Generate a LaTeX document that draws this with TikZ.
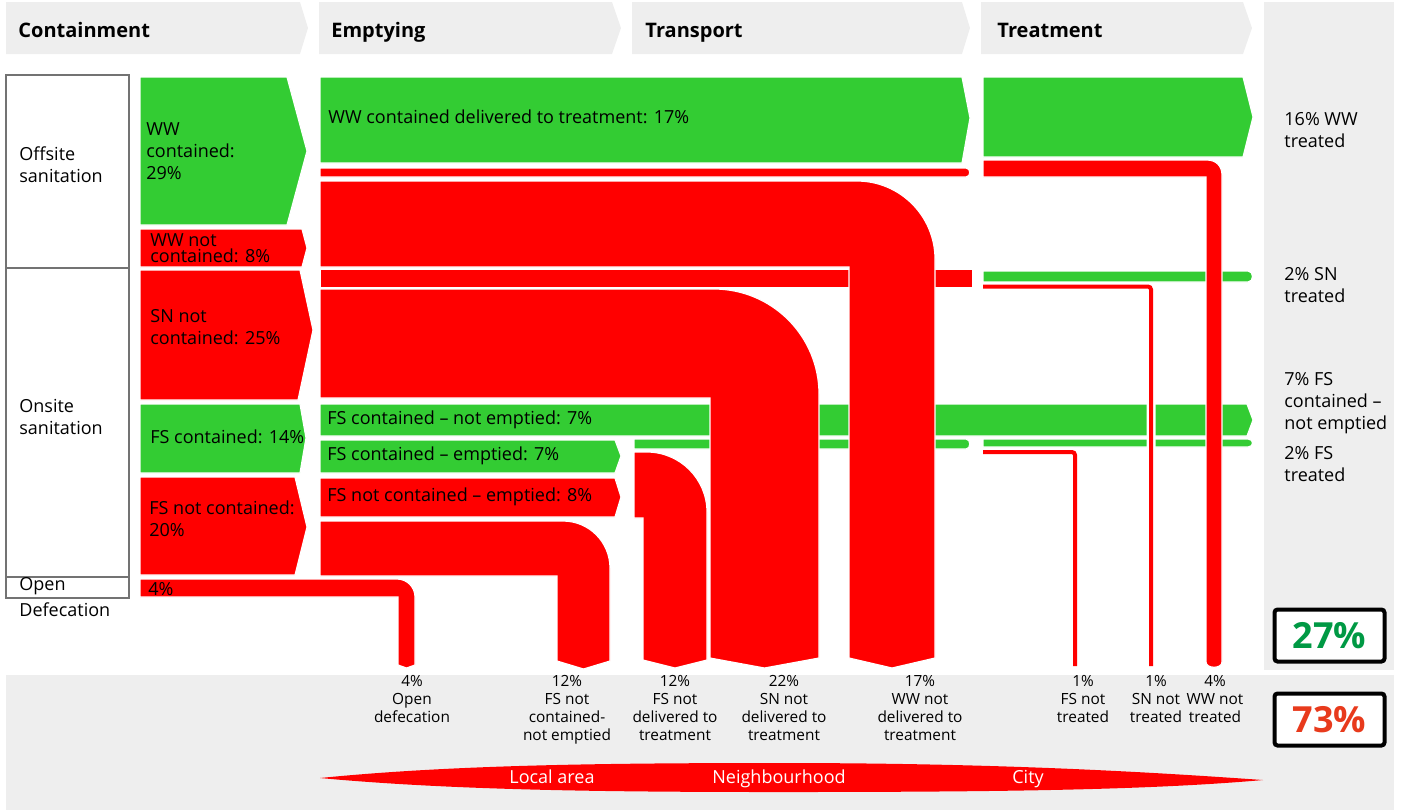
\documentclass[tikz,border=0pt]{standalone}
\usepackage{fontspec}
\setmainfont{Open Sans}
\definecolor{sfdgreen}{RGB}{51,204,51}
\definecolor{sfdred}{RGB}{255,0,0}
\definecolor{sfdgray}{RGB}{238,238,238}
\definecolor{safetext}{RGB}{0,153,68}
\definecolor{unsafetext}{RGB}{232,58,28}
\tikzset{
  safe/.style={fill=sfdgreen, draw=white, line width=0.6pt},
  unsafe/.style={fill=sfdred, draw=white, line width=0.6pt},
  thinflow/.style={draw=sfdred, line width=2pt, rounded corners=1.5pt,
    preaction={draw=white, line width=4.5pt}},
  stage/.style={fill=sfdgray},
  lbl/.style={font=\fontsize{9}{11}\selectfont, inner sep=0pt, align=left, anchor=west},
  outlbl/.style={font=\fontsize{7.7}{9}\selectfont, inner sep=0pt, align=center, anchor=north},
  stagelbl/.style={font=\bfseries\fontsize{10}{12}\selectfont, inner sep=0pt, anchor=base west},
  scalelbl/.style={font=\fontsize{9}{10}\selectfont, text=white, inner sep=0pt, anchor=base},
  result/.style={draw=black, line width=2pt, rounded corners=1.5pt, fill=white,
    minimum width=55pt, minimum height=26pt, inner sep=0pt,
    font=\bfseries\fontsize{18}{18}\selectfont},
  sysbox/.style={draw=black!55, line width=1pt, fill=white}
}
\begin{document}
\begin{tikzpicture}[x=0.5pt, y=-0.5pt]
    \useasboundingbox (0,0) rectangle (1407,811);
    % grey backgrounds
    \fill[stage] (1264,2) rectangle (1394,670);
    \fill[stage] (6,675) rectangle (1394,810);
    \fill[stage] (6,2) -- (300,2) -- (308,28) -- (300,54) -- (6,54) -- cycle;
    \fill[stage] (319,2) -- (612,2) -- (621,28) -- (612,54) -- (319,54) -- cycle;
    \fill[stage] (632,2) -- (962,2) -- (970,28) -- (962,54) -- (632,54) -- cycle;
    \fill[stage] (981,2) -- (1243,2) -- (1252,28) -- (1243,54) -- (981,54) -- cycle;
    \node[stagelbl] (containment) at (18,37) {Containment};
    \node[stagelbl] (emptying) at (331,37) {Emptying};
    \node[stagelbl] (transport) at (645,37) {Transport};
    \node[stagelbl] (treatment) at (997,37) {Treatment};

    % sanitation systems
    \draw[sysbox] (6,75) rectangle (129,268);
    \draw[sysbox] (6,268) rectangle (129,577);
    \draw[sysbox] (6,577) rectangle (129,598);
    \node[lbl] (offsite) at (19,165) {Offsite\\sanitation};
    \node[lbl] (onsite) at (19,417) {Onsite\\sanitation};
    \node[lbl] (open) at (19,586) {Open};
    \node[lbl] (defecation) at (19,610) {Defecation};

    % containment
    \fill[safe] (140,77) -- (287,77) -- (307,151) -- (287,225) -- (140,225) -- cycle;
    \fill[unsafe] (140,229) -- (302,229) -- (307,248) -- (302,267) -- (140,267) -- cycle;
    \fill[unsafe] (140,270) -- (300,270) -- (313,330) -- (298,400) -- (140,400) -- cycle;
    \fill[safe] (140,404) -- (300,404) -- (306,438) -- (300,473) -- (140,473) -- cycle;
    \fill[unsafe] (140,477) -- (295,477) -- (307,527) -- (295,575) -- (140,575) -- cycle;
    \fill[unsafe] (140,579) -- (397,579) .. controls (407,579) and (415,587) .. (415,597)
        -- (415,665) -- (406.5,668) -- (398,665) -- (398,597) -- (140,597) -- cycle;
    \node[lbl] (wwcont) at (146,151) {WW\\contained:\\29\%};
    \node[lbl, font=\fontsize{9}{8}\selectfont] (wwnotcont) at (150,248) {WW not\\contained: 8\%};
    \node[lbl] (snnotcont) at (150,327) {SN not\\contained: 25\%};
    \node[lbl] (fscont) at (150,437) {FS contained: 14\%};
    \node[lbl] (fsnotcont) at (149,519) {FS not contained:\\20\%};
    \node[lbl] (opendef) at (148,589) {4\%};

    % emptying and transport
    \fill[safe] (320,77) -- (962,77) -- (970,118) -- (962,163) -- (320,163) -- cycle;
    \fill[unsafe] (320,168) -- (966,168) .. controls (971,168) and (971,177) .. (966,177) -- (320,177) -- cycle;
    \fill[unsafe] (320,269) rectangle (973,288);
    \fill[safe] (320,404) -- (1247,404) -- (1253,420) -- (1247,436) -- (320,436) -- cycle;
    \fill[safe] (320,440) -- (615,440) -- (621,456) -- (615,473) -- (320,473) -- cycle;
    \fill[unsafe] (320,478) -- (615,478) -- (621,497) -- (615,517) -- (320,517) -- cycle;
    \fill[safe] (634,439) -- (966,439) .. controls (971,439) and (971,449) .. (966,449) -- (634,449) -- cycle;
    \fill[unsafe] (320,521) -- (563,521) .. controls (589,521) and (610,542) .. (610,568)
        -- (610,661) -- (583.5,669) -- (557,661) -- (557,576) -- (320,576) -- cycle;
    \fill[unsafe] (634,452) -- (647,452) .. controls (680,452) and (707,479) .. (707,512)
        -- (707,660) -- (675,668) -- (643,660) -- (643,518) -- (634,518) -- cycle;
    \fill[unsafe] (320,289) -- (714,289) .. controls (772,289) and (819,336) .. (819,394)
        -- (819,658) -- (764.5,668) -- (710,658) -- (710,398) -- (320,398) -- cycle;
    \fill[unsafe] (320,181) -- (857,181) .. controls (900,181) and (935,216) .. (935,259)
        -- (935,658) -- (892,668) -- (849,658) -- (849,267) -- (320,267) -- cycle;
    \node[lbl] (wwdelivered) at (328,117) {WW contained delivered to treatment: 17\%};
    \node[lbl] (fsnotemptied) at (327,420) {FS contained – not emptied: 7\%};
    \node[lbl] (fsemptied) at (327,456) {FS contained – emptied: 7\%};
    \node[lbl] (fsncemptied) at (327,497) {FS not contained – emptied: 8\%};

    % treatment
    \fill[safe] (983,77) -- (1243,77) -- (1253,117) -- (1243,157) -- (983,157) -- cycle;
    \fill[safe] (983,271) -- (1248,271) .. controls (1254,271) and (1254,282) .. (1248,282) -- (983,282) -- cycle;
    \fill[safe] (983,439) -- (1248,439) .. controls (1254,439) and (1254,447) .. (1248,447) -- (983,447) -- cycle;
    \coordinate (snend) at (1151,666);
    \coordinate (fsend) at (1075,666);
    \draw[thinflow] (983,286.5) -- (1151,286.5) -- (snend);
    \draw[thinflow] (983,452) -- (1075,452) -- (fsend);
    \fill[unsafe] (983,160) -- (1207,160) .. controls (1216,160) and (1222,166) .. (1222,175)
        -- (1222,662) .. controls (1222,669) and (1206,669) .. (1206,662) -- (1206,177) -- (983,177) -- cycle;

    % outcomes
    \node[lbl] (wwtreated) at (1284,130) {16\% WW\\treated};
    \node[lbl] (sntreated) at (1284,285) {2\% SN\\treated};
    \node[lbl] (fsnetreated) at (1284,403) {7\% FS\\contained –\\not emptied};
    \node[lbl] (fstreated) at (1284,464) {2\% FS\\treated};
    \node[result, text=safetext] (safelymanaged) at (1329.5,635.5) {27\%};
    \node[result, text=unsafetext] (unsafelymanaged) at (1329.5,719.5) {73\%};

    \node[outlbl] (odout) at (412,675) {4\%\\Open\\defecation};
    \node[outlbl] (fsncneout) at (567,675) {12\%\\FS not\\contained-\\not emptied};
    \node[outlbl] (fsndout) at (675,675) {12\%\\FS not\\delivered to\\treatment};
    \node[outlbl] (snndout) at (784,675) {22\%\\SN not\\delivered to\\treatment};
    \node[outlbl] (wwndout) at (920,675) {17\%\\WW not\\delivered to\\treatment};
    \node[outlbl] (fsntout) at (1083,675) {1\%\\FS not\\treated};
    \node[outlbl] (snntout) at (1156,675) {1\%\\SN not\\treated};
    \node[outlbl] (wwntout) at (1215,675) {4\%\\WW not\\treated};

    % scale of impact
    \fill[sfdred] (320,778) .. controls (450,765) and (600,763) .. (780,763)
        .. controls (1000,763) and (1150,772) .. (1263,780)
        .. controls (1150,790) and (1000,792) .. (780,792)
        .. controls (600,792) and (450,790) .. (320,778) -- cycle;
    \node[scalelbl] (local) at (552,783) {Local area};
    \node[scalelbl] (neighbourhood) at (779,783) {Neighbourhood};
    \node[scalelbl] (city) at (1028,783) {City};
\end{tikzpicture}
\end{document}
